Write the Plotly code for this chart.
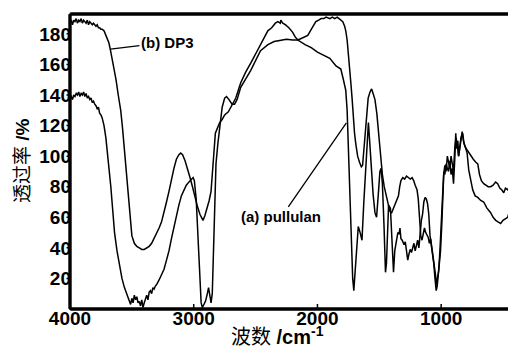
import plotly.graph_objects as go

# (a) pullulan
wn_a = [4000,3990,3980,3970,3960,3950,3940,3930,3920,3910,3900,3890,3880,3870,3860,3850,3840,3830,3820,3810,
        3800,3790,3780,3770,3760,3750,3740,3725,3710,3700,3690,3680,3670,3660,3650,3640,3620,3600,3580,3560,
        3540,3520,3510,3500,3490,3480,3470,3460,3450,3440,3430,3420,3410,3400,3390,3380,3370,3360,3350,3340,
        3330,3320,3310,3300,3280,3260,3240,3220,3200,3180,3160,3140,3120,3100,3080,3060,3040,3020,3005,2995,
        2980,2970,2960,2950,2940,2930,2920,2905,2890,2880,2870,2860,2850,2840,2830,2820,2805,2790,2770,2750,
        2735,2715,2690,2670,2650,2620,2540,2460,2400,2350,2300,2250,2200,2160,2100,2050,2000,1950,1900,1850,
        1811,1790,1771,1760,1754,1745,1735,1725,1715,1706,1695,1685,1670,1655,1640,1625,1610,1595,1588,1578,
        1565,1550,1535,1522,1508,1495,1485,1475,1462,1450,1442,1435,1425,1410,1398,1385,1375,1362,1350,1340,
        1333,1325,1315,1300,1290,1280,1270,1260,1250,1240,1230,1220,1210,1200,1190,1180,1170,1160,1150,1140,
        1130,1120,1110,1100,1090,1080,1070,1060,1050,1040,1032,1025,1015,1005,995,985,978,970,960,950,
        940,930,920,910,900,890,882,875,865,858,850,840,826,815,801,790,777,765,745,725,
        704,680,656,630,600,580,559,540,519,500,480,462,445,430,422,415,412,409,406,403,400,398,396]
t_a = [138,139,137,140,139,141,140,142,139,141,140,142,139,141,138,139,137,138,135,136,
       134,133,131,132,128,127,125,120,112,105,97,90,80,70,60,50,38,28,20,14,
       10,6,3,7,4,9,6,8,4,5,2,6,1,4,7,9,6,11,12,10,
       14,13,15,16,19,22,26,32,38,46,54,62,68,74,78,81,83,85,86,84,
       72,55,35,15,4,1,3,5,10,14,9,4,10,35,75,95,108,120,132,138,
       139,137,134,134,137,145,156,169,173,175,176,176.5,176,176,173,171,168,166,164,159,
       157,150,143,130,115,90,60,35,20,12,25,42,54,50,45,70,93,115,122,110,
       90,75,63,60,75,90,92,82,55,24,30,45,68,66,45,24,38,45,50,49,
       53,46,45,42,44,38,32,36,39,37,41,43,38,41,45,40,50,58,62,70,
       73,72,69,62,48,42,36,30,20,12,15,20,28,38,55,80,90,88,95,92,
       90,97,88,92,82,98,115,105,110,100,108,112,115,108,105,102,91,85,78,74,
       73,71,70,66,63,60,58,57,56,58,59,60,65,69,66,58,72,48,66,40,58,36,31]

# (b) DP3
wn_b = [4000,3990,3980,3970,3960,3950,3940,3930,3920,3910,3900,3890,3880,3870,3860,3850,3840,3830,3820,3810,
        3800,3790,3780,3770,3760,3750,3740,3725,3710,3695,3685,3670,3655,3640,3628,3610,3590,3575,3564,3550,
        3540,3525,3510,3500,3480,3460,3440,3420,3400,3380,3360,3340,3320,3300,3280,3260,3240,3220,3200,3180,
        3160,3140,3120,3105,3090,3070,3050,3030,3010,2990,2970,2950,2935,2925,2910,2895,2875,2860,2850,2840,
        2825,2810,2790,2770,2750,2720,2700,2660,2620,2580,2538,2500,2457,2430,2401,2370,2340,2320,2300,2296,
        2280,2260,2231,2200,2180,2158,2130,2100,2078,2050,2030,2013,1990,1970,1948,1930,1900,1880,1860,1840,
        1825,1811,1795,1780,1771,1760,1750,1740,1730,1720,1710,1700,1690,1675,1660,1645,1635,1620,1605,1590,
        1575,1562,1550,1535,1520,1505,1495,1485,1475,1460,1445,1430,1415,1400,1385,1370,1355,1345,1335,1325,
        1310,1295,1280,1265,1250,1235,1222,1210,1195,1185,1175,1165,1155,1145,1135,1125,1115,1105,1095,1085,
        1075,1065,1055,1045,1038,1030,1020,1010,1000,990,980,970,960,950,940,930,920,910,900,890,
        880,870,860,850,840,830,820,805,790,775,761,740,720,704,690,675,656,640,620,599,
        580,560,543,525,510,494,480,462,450,438,425,415,408,404,401,398,396]
t_b = [187,189,186,189,188,190,187,189,188,190,187,189,188,187,189,186,188,187,186,187,
       186,185,186,184,184,183,183,182,179,176,174,168,162,155,150,140,130,118,108,95,
       85,70,55,48,43,41,40,39,39,40,41,43,46,49,53,57,63,70,77,85,
       92,98,101,102,101,97,92,86,80,73,67,62,59,58,61,65,71,77,88,105,
       115,118,122,124,127,129,132,138,148,155,161,167,174,178,182,184,187,188,187,189,
       187,186,184,181,178,176,177,178,179,183,186,188,189,190,190,191,190,191,190,191,
       190,189,188,185,182,176,168,158,148,138,125,115,108,100,96,93,94,110,128,138,
       142,144,141,137,128,115,105,95,88,80,74,68,64,63,66,68,71,74,80,84,
       86,85,87,86,85,86,84,81,78,72,56,48,45,50,53,50,48,47,43,46,
       40,35,28,22,16,20,25,38,55,72,88,94,90,100,96,92,100,95,90,105,
       112,108,100,105,110,116,110,106,104,102,100,98,96,95,88,84,82,81,80,80,
       81,83,82,79,78,76,79,78,80,80,82,86,75,100,70,104,88]

x_ticks = [4000, 3000, 2000, 1000]
y_ticks = [20, 40, 60, 80, 100, 120, 140, 160, 180]
frame_x = [4000, 395]   # axis extent (wavenumber)
frame_y = [0, 193]      # axis extent (transmittance)

# figure geometry (page body adds an 8px offset); the plot area is padded by PAD px
# around the drawn frame so the frame lines are drawn inside it
FIG_W, FIG_H = 508, 339
PAD = 5
M_L, M_R, M_T, M_B = 62 - PAD, 0, 6 - PAD, 38 - PAD
frame_w = FIG_W - 62
frame_h = FIG_H - 6 - 38
kx = frame_w / (frame_x[0] - frame_x[1])   # px per wavenumber
ky = frame_h / (frame_y[1] - frame_y[0])   # px per unit
x_range = [frame_x[0] + PAD / kx, frame_x[1]]
y_range = [frame_y[0] - PAD / ky, frame_y[1] + PAD / ky]
plot_w = FIG_W - M_L - M_R
plot_h = FIG_H - M_T - M_B


def paper_x(fx):
    return (fx - M_L) / plot_w


def paper_y(fy):
    return (FIG_H - M_B - fy) / plot_h


line_style = dict(color="black", width=1.5)
fig = go.Figure()
fig.add_trace(go.Scatter(x=wn_a, y=t_a, mode="lines", line=line_style, name="(a) pullulan"))
fig.add_trace(go.Scatter(x=wn_b, y=t_b, mode="lines", line=line_style, name="(b) DP3"))

# frame (bottom, left, top) as one continuous path of three parallel passes
fx, fy = [], []
for i, off in enumerate((-1.0, 0.0, 1.0)):
    dx = off / kx
    dy = off / ky
    px = [frame_x[1], frame_x[0] - dx, frame_x[0] - dx, frame_x[1]]
    py = [frame_y[0] - dy, frame_y[0] - dy, frame_y[1] + dy, frame_y[1] + dy]
    if i % 2 == 1:
        px, py = px[::-1], py[::-1]
    fx += px
    fy += py
fig.add_trace(go.Scatter(x=fx, y=fy, mode="lines", line=dict(color="black", width=1.4),
                         name="frame"))

# tick marks as one continuous path: x ticks inside (5px), y ticks outside (3.5px)
tx, ty = [frame_x[1]], [frame_y[0]]
for v in sorted(x_ticks[1:]):
    tx += [v, v, v]
    ty += [frame_y[0], frame_y[0] + 5 / ky, frame_y[0]]
tx.append(frame_x[0])
ty.append(frame_y[0])
for v in y_ticks:
    tx += [frame_x[0], frame_x[0] + 3.5 / kx, frame_x[0]]
    ty += [v, v, v]
fig.add_trace(go.Scatter(x=tx, y=ty, mode="lines", line=dict(color="black", width=1.5),
                         name="ticks"))

tick_font = dict(family="Liberation Sans", size=19, color="black")

fig.update_layout(
    width=FIG_W, height=FIG_H,
    margin=dict(l=M_L, r=M_R, t=M_T, b=M_B, autoexpand=False),
    paper_bgcolor="white", plot_bgcolor="white",
    showlegend=False,
    xaxis=dict(range=x_range, tickvals=x_ticks, ticktext=["<b>%d</b>" % v for v in x_ticks],
               ticks="", showline=False, showgrid=False, zeroline=False,
               tickfont=tick_font, automargin=False, ticklabelstandoff=-4 - PAD),
    yaxis=dict(range=y_range, tickvals=y_ticks, ticktext=["<b>%d</b>" % v for v in y_ticks],
               ticks="", showline=False, showgrid=False, zeroline=False,
               tickfont=tick_font, automargin=False, ticklabelstandoff=-2 - PAD),
    font=dict(family="Liberation Sans, Noto Sans CJK SC", color="black"),
)

fig.add_annotation(xref="paper", yref="paper", x=paper_x(269), y=paper_y(327),
                   text="波数 <b>/cm<sup>-1</sup></b>", showarrow=False,
                   font=dict(family="Liberation Sans, Noto Sans CJK SC", size=20, color="black"),
                   xanchor="center", yanchor="middle")
fig.add_annotation(xref="paper", yref="paper", x=paper_x(14), y=paper_y(153),
                   text="透过率 <b>/%</b>", showarrow=False, textangle=-90,
                   font=dict(family="Liberation Sans, Noto Sans CJK SC", size=19, color="black"),
                   xanchor="center", yanchor="middle")

fig.add_annotation(x=3673, y=170, xref="x", yref="y", text="<b>(b) DP3</b>",
                   showarrow=True, arrowhead=0, arrowwidth=1.3, arrowcolor="black",
                   ax=57, ay=-7, font=dict(family="Liberation Sans", size=15, color="black"))
fig.add_annotation(x=1766, y=121.7, xref="x", yref="y", text="<b>(a) pullulan</b>",
                   showarrow=True, arrowhead=0, arrowwidth=1.3, arrowcolor="black",
                   ax=-65, ay=94, font=dict(family="Liberation Sans", size=15, color="black"))

fig.write_html("out.html")
